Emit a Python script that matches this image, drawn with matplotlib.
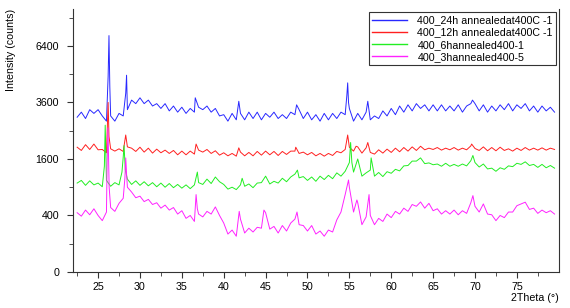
import numpy as np
import matplotlib.pyplot as plt
from matplotlib.ticker import FixedLocator

plt.rcParams['font.family'] = ['Liberation Sans', 'DejaVu Sans']

# common 2theta grid, 0.5 deg step (22.5 ... 79.5)
x_grid = [22.5 + 0.5 * i for i in range(115)]

# baseline values (10 per 5 deg)
y_24h = [3000, 3200, 2950, 3300, 3150, 3300, 3050, 2850, 3050, 2850,
         3150, 3050, 3300, 3700, 3550, 3800, 3550, 3700, 3450, 3550,
         3350, 3550, 3250, 3450, 3200, 3400, 3150, 3350, 3200, 3400,
         3300, 3450, 3200, 3350, 3050, 3100, 2850, 3150, 2900, 3150,
         2900, 3200, 2950, 3200, 2900, 3150, 3000, 3200, 2950, 3100,
         2950, 3200, 3100, 3300, 2950, 3200, 2900, 3100, 2850, 3150,
         2900, 3150, 2950, 3200, 3100, 3350, 2850, 3150, 2900, 3200,
         2900, 3050, 2950, 3250, 3050, 3350, 3100, 3450, 3200, 3500,
         3250, 3550, 3350, 3500, 3250, 3500, 3250, 3500, 3250, 3450,
         3250, 3500, 3200, 3450, 3550, 3550, 3250, 3500, 3200, 3450,
         3250, 3500, 3300, 3550, 3250, 3500, 3350, 3550, 3250, 3450,
         3200, 3450, 3250, 3400, 3200]
y_12h = [1950, 1850, 2030, 1880, 2050, 1870, 1880, 1780, 1900, 1830,
         1900, 1820, 1960, 1920, 1820, 1950, 1800, 1920, 1770, 1890,
         1780, 1860, 1760, 1850, 1720, 1830, 1720, 1830, 1740, 1860,
         1800, 1880, 1760, 1840, 1710, 1780, 1690, 1760, 1680, 1800,
         1690, 1790, 1690, 1820, 1710, 1830, 1720, 1820, 1700, 1820,
         1730, 1830, 1830, 1760, 1800, 1720, 1790, 1690, 1760, 1680,
         1760, 1700, 1820, 1780, 1880, 1950, 1830, 1960, 1770, 1930,
         1790, 1740, 1870, 1770, 1890, 1790, 1920, 1810, 1940, 1830,
         1960, 1850, 1980, 1870, 1920, 1880, 1940, 1860, 1920, 1870,
         1940, 1860, 1920, 1870, 1990, 1910, 1850, 1960, 1840, 1940,
         1840, 1950, 1850, 1900, 1830, 1920, 1850, 1940, 1860, 1920,
         1860, 1930, 1860, 1920, 1880]
y_6h = [990, 1050, 940, 1040, 950, 990, 910, 1050, 920, 1000,
        950, 1650, 1080, 960, 1040, 940, 1020, 930, 1000, 910,
        990, 900, 980, 890, 960, 880, 950, 870, 950, 1000,
        960, 1080, 980, 1130, 1020, 960, 860, 900, 850, 950,
        920, 970, 890, 990, 1000, 1150, 970, 1030, 990, 1100,
        1020, 1130, 1200, 1110, 1140, 1050, 1130, 1030, 1150, 1070,
        1170, 1090, 1230, 1150, 1270, 1500, 1250, 1600, 1150, 1230,
        1300, 1150, 1240, 1140, 1260, 1220, 1320, 1280, 1410, 1420,
        1540, 1540, 1630, 1470, 1490, 1440, 1460, 1400, 1480, 1400,
        1450, 1400, 1460, 1410, 1550, 1500, 1380, 1460, 1330, 1350,
        1270, 1360, 1320, 1410, 1390, 1480, 1450, 1520, 1420, 1450,
        1370, 1450, 1360, 1420, 1350]
y_3h = [440, 390, 480, 410, 500, 400, 330, 450, 520, 460,
        590, 680, 900, 800, 690, 720, 620, 660, 570, 600,
        510, 560, 480, 520, 420, 470, 360, 400, 320, 420,
        380, 460, 420, 530, 400, 300, 180, 220, 160, 350,
        190, 240, 200, 250, 240, 440, 230, 260, 190, 270,
        210, 300, 350, 280, 270, 210, 270, 180, 210, 160,
        220, 200, 340, 450, 750, 900, 450, 600, 280, 380,
        400, 280, 360, 320, 420, 370, 460, 420, 510, 460,
        570, 540, 614, 510, 590, 470, 500, 420, 470, 420,
        480, 410, 470, 430, 600, 540, 450, 580, 420, 410,
        330, 400, 370, 450, 450, 550, 580, 610, 490, 510,
        430, 480, 440, 470, 420]

# narrow reflections
pk_x_24h = [26.2, 26.3, 26.4, 28.3, 28.4, 36.6, 41.8, 48.7, 54.7, 54.8, 54.9, 57.2, 69.7]
pk_y_24h = [4800, 7000, 4300, 4000, 4850, 3800, 3650, 3500, 3900, 4480, 3600, 3650, 3700]
pk_x_12h = [26.1, 26.2, 26.3, 28.3, 36.7, 41.8, 48.6, 54.8, 55.8, 57.2, 69.6]
pk_y_12h = [2600, 3600, 2300, 2350, 2050, 1930, 1950, 2350, 1980, 2100, 2050]
pk_x_6h = [25.75, 25.85, 25.95, 27.85, 28.1, 28.25, 36.85, 42.2, 48.8, 55.15, 55.3, 57.6, 69.75]
pk_y_6h = [1400, 2700, 1500, 1250, 2000, 1300, 1250, 1100, 1300, 2100, 1500, 1630, 1700]
pk_x_3h = [26.08, 26.18, 26.32, 28.2, 28.3, 28.4, 36.7, 36.85, 41.85, 44.8, 48.75, 54.9, 55.9, 57.35, 69.75]
pk_y_3h = [1500, 2600, 900, 1100, 1630, 1200, 750, 500, 460, 480, 450, 1060, 650, 750, 730]

labels = ['400_24h annealedat400C -1', '400_12h annealedat400C -1',
          '400_6hannealed400-1', '400_3hannealed400-5']
colors = ['#2828ff', '#ff2020', '#22ee22', '#ff22ff']


def merge(xb, yb, xp, yp):
    x = np.array(list(xb) + list(xp))
    y = np.array(list(yb) + list(yp))
    o = np.argsort(x, kind='stable')
    return x[o], y[o]


series = [(y_24h, pk_x_24h, pk_y_24h), (y_12h, pk_x_12h, pk_y_12h),
          (y_6h, pk_x_6h, pk_y_6h), (y_3h, pk_x_3h, pk_y_3h)]

fig = plt.figure(figsize=(5.7, 3.08), dpi=100)
ax = fig.add_axes([0.128, 0.117, 0.853, 0.854])

for (yb, xp, yp), lab, c in zip(series, labels, colors):
    x, y = merge(x_grid, yb, xp, yp)
    ax.plot(x, y, color=c, lw=0.7, label=lab)

ax.set_yscale('function', functions=(lambda v: np.sqrt(np.clip(v, 0, None)), np.square))
ax.set_xlim(22, 80.05)
ax.set_ylim(0, 8668)
ax.yaxis.set_major_locator(FixedLocator([0, 400, 1600, 3600, 6400]))
ax.yaxis.set_minor_locator(FixedLocator([100, 900, 2500, 4900, 8100]))
ax.yaxis.set_major_formatter(plt.FuncFormatter(lambda v, p: '%d' % round(v)))
ax.yaxis.set_minor_formatter(plt.NullFormatter())
ax.xaxis.set_major_locator(FixedLocator(range(25, 80, 5)))
ax.xaxis.set_minor_locator(FixedLocator(np.arange(22.5, 80, 2.5)))

ax.spines['top'].set_visible(False)
for s in ['left', 'bottom', 'right']:
    ax.spines[s].set_linewidth(0.8)
    ax.spines[s].set_color('#333333')
ax.tick_params(which='both', direction='out', labelsize=7.7, color='#333333')
ax.tick_params(which='major', length=4)
ax.tick_params(which='minor', length=3)
ax.tick_params(axis='y', pad=6)

fig.text(0.02, 0.97, 'Intensity (counts)', rotation=90, ha='center', va='top', fontsize=7.7)
fig.text(0.981, 0.015, '2Theta (°)', ha='right', va='bottom', fontsize=7.7)

leg = ax.legend(loc='upper right', fontsize=7.7, frameon=True, fancybox=False,
                edgecolor='#333333', framealpha=1, borderaxespad=0.3,
                handlelength=3.2, labelspacing=0.2, borderpad=0.3, handletextpad=1.0)
leg.get_frame().set_linewidth(0.8)
for h in leg.get_lines():
    h.set_linewidth(1.0)

plt.savefig('out.png', dpi=100)
